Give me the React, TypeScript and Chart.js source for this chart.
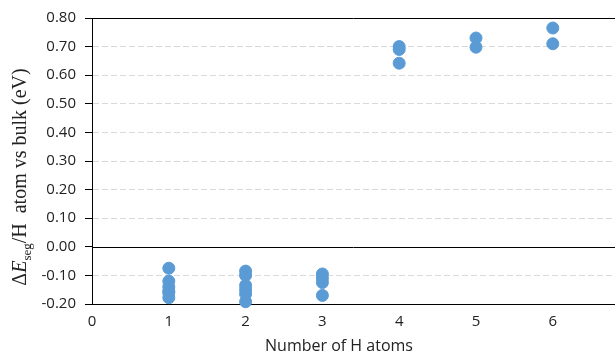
import React, { useEffect, useRef } from "react";
import { Chart, registerables } from "chart.js";

Chart.register(...registerables);

const xValues1: number[] = [1, 1, 1, 1, 1, 1];
const yValues1: number[] = [-0.075, -0.12, -0.14, -0.155, -0.16, -0.178];
const xValues2: number[] = [2, 2, 2, 2, 2, 2];
const yValues2: number[] = [-0.085, -0.1, -0.135, -0.15, -0.165, -0.192];
const xValues3: number[] = [3, 3, 3, 3];
const yValues3: number[] = [-0.095, -0.11, -0.125, -0.17];
const xValuesHigh: number[] = [4, 4, 4, 5, 5, 6, 6];
const yValuesHigh: number[] = [0.7, 0.69, 0.642, 0.73, 0.698, 0.765, 0.71];
const xTickValues: number[] = [0, 1, 2, 3, 4, 5, 6];

const xTitle = "Number of H atoms";
const yTitleParts = ["Δ", "E", "seg", "/H  atom vs bulk (eV)"];

const allX = [...xValues1, ...xValues2, ...xValues3, ...xValuesHigh];
const allY = [...yValues1, ...yValues2, ...yValues3, ...yValuesHigh];

const overlay = {
  id: "overlay",
  beforeDatasetsDraw(chart: any) {
    const { ctx, chartArea: a, scales } = chart;
    const y = scales.y;
    ctx.save();
    ctx.strokeStyle = "#000";
    ctx.lineWidth = 1;
    const y0 = Math.round(y.getPixelForValue(0)) + 0.5;
    ctx.beginPath();
    ctx.moveTo(a.left, y0);
    ctx.lineTo(a.right, y0);
    const yt = Math.round(a.top) + 0.5;
    ctx.moveTo(a.left, yt);
    ctx.lineTo(a.right, yt);
    ctx.stroke();
    ctx.restore();
  },
  afterDraw(chart: any) {
    const { ctx } = chart;
    ctx.save();
    ctx.fillStyle = "#222";
    ctx.font = "16px 'Open Sans'";
    ctx.textAlign = "center";
    ctx.textBaseline = "alphabetic";
    ctx.fillText(xTitle, 339, 351);
    ctx.translate(26, 177);
    ctx.rotate(-Math.PI / 2);
    ctx.textAlign = "left";
    const fonts = [
      "20px 'Liberation Serif'",
      "italic 20px 'Liberation Serif'",
      "13px 'Liberation Serif'",
      "20px 'Liberation Serif'",
    ];
    const dys = [0, 0, 5, 0];
    let total = 0;
    const widths = yTitleParts.map((t, i) => {
      ctx.font = fonts[i];
      const w = ctx.measureText(t).width;
      total += w;
      return w;
    });
    let x = -total / 2;
    yTitleParts.forEach((t, i) => {
      ctx.font = fonts[i];
      ctx.fillText(t, x, dys[i]);
      x += widths[i];
    });
    ctx.restore();
  },
};

export default function App() {
  const ref = useRef<HTMLCanvasElement | null>(null);
  useEffect(() => {
    if (!ref.current) return;
    const chart = new Chart(ref.current, {
      type: "scatter",
      data: {
        datasets: [
          {
            data: allX.map((x, i) => ({ x, y: allY[i] })),
            backgroundColor: "#5B9BD5",
            borderColor: "#5B9BD5",
            pointRadius: 6,
            pointHoverRadius: 6,
            clip: false,
          },
        ],
      },
      options: {
        animation: false,
        responsive: false,
        maintainAspectRatio: false,
        layout: { autoPadding: false, padding: { top: 17, right: 0, left: 0, bottom: 0 } },
        plugins: { legend: { display: false }, tooltip: { enabled: false } },
        scales: {
          x: {
            type: "linear",
            min: 0,
            max: 6.81,
            afterBuildTicks: (s: any) => {
              s.ticks = xTickValues.map((v) => ({ value: v }));
            },
            afterFit: (s: any) => {
              s.height = 51;
            },
            grid: { display: false, drawTicks: false },
            border: { color: "#000", width: 1 },
            ticks: {
              padding: 9,
              color: "#222",
              font: { family: "'Open Sans'", size: 15 },
              callback: (v: any) => String(v),
            },
          },
          y: {
            min: -0.2,
            max: 0.8,
            afterFit: (s: any) => {
              s.width = 92;
            },
            grid: {
              color: (c: any) =>
                Math.abs(c.tick.value) < 1e-9 || Math.abs(c.tick.value - 0.8) < 1e-9
                  ? "rgba(0,0,0,0)"
                  : "#d9d9d9",
              tickColor: "#000",
              tickLength: 7,
              lineWidth: 1,
            },
            border: { color: "#000", width: 1, dash: [6, 3] },
            ticks: {
              stepSize: 0.1,
              padding: 9,
              color: "#222",
              font: { family: "'Open Sans'", size: 15 },
              callback: (v: any) => (Math.abs(v) < 1e-9 ? "0.00" : Number(v).toFixed(2)),
            },
          },
        },
      },
      plugins: [overlay],
    });
    return () => chart.destroy();
  }, []);
  return (
    <div style={{ position: "fixed", left: 0, top: 0, width: 615, height: 355, background: "#fff" }}>
      <canvas ref={ref} width={615} height={355} style={{ width: 615, height: 355 }} />
    </div>
  );
}
